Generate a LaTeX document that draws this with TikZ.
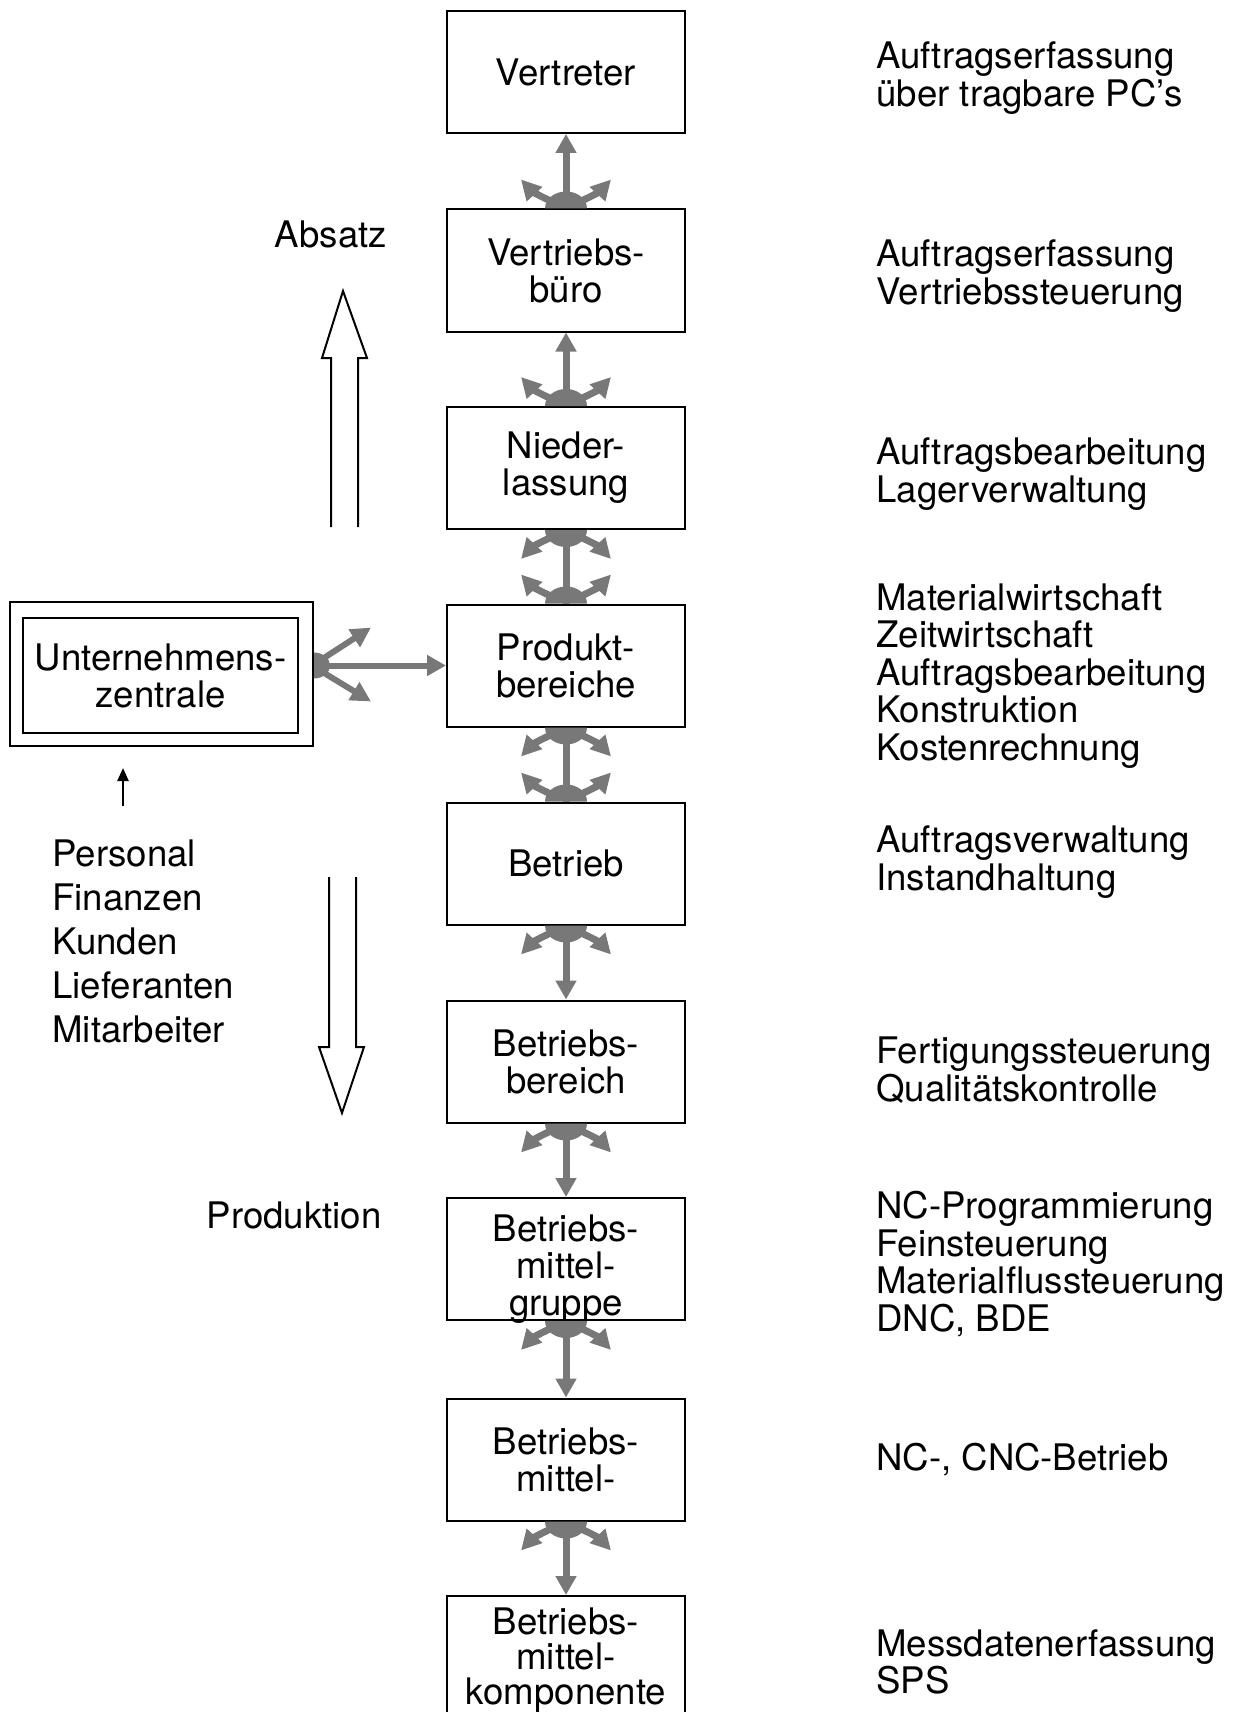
\documentclass[tikz,border=0pt]{standalone}
\usepackage{fontspec}
\setmainfont{TeX Gyre Heros}
\usetikzlibrary{arrows.meta}
\definecolor{linkgray}{gray}{0.47}
\tikzset{
  x=0.5pt, y=-0.5pt,
  every node/.style={font=\fontsize{18.3}{18.5}\selectfont, inner sep=0pt},
  box/.style={draw, line width=1pt, minimum width=119pt, minimum height=61pt, align=center},
  boxtext/.style={align=center},
  notes/.style={anchor=west, align=left, font=\fontsize{18.3}{18.75}\selectfont},
  listtext/.style={anchor=west, align=left, font=\fontsize{18.3}{22}\selectfont},
  shaft/.style={draw=linkgray, line width=3.5pt},
  tipend/.style={-{Triangle[length=9.5pt, width=10pt]}},
  arm/.style={draw=linkgray, line width=3.5pt, -{Triangle[length=10pt, width=10pt]}},
  hollow/.style={draw, line width=1pt, line join=miter},
  % branching end of a link: blob on the box edge with two side arrows
  fanend/.pic={
    \fill[linkgray] (-21,0) arc[start angle=180, end angle=360, x radius=21, y radius=17] -- cycle;
    \draw[arm] (-14,-7) to[bend left=12] (-45,-29);
    \draw[arm] (14,-7) to[bend right=12] (45,-29);
  }
}
\begin{document}
\begin{tikzpicture}
\useasboundingbox (0,0) rectangle (1242,1712);
\clip (0,0) rectangle (1242,1712);
\fill[white] (0,0) rectangle (1242,1712);

% levels of the hierarchy
\node[box] (b1) at (566,72) {Vertreter};
\node[box] (b2) at (566,270.5) {Vertriebs-\\büro};
\node[box] (b3) at (566,468) {Nieder-\\lassung};
\node[box] (b4) at (566,665.5) {Produkt-\\bereiche};
\node[box] (b5) at (566,863.5) {Betrieb};
\node[box] (b6) at (566,1061.5) {Betriebs-\\bereich};
\node[box] (b7) at (566,1259) {};
\node[boxtext] (t7) at (566,1269) {Betriebs-\\mittel-\\gruppe};
\node[box] (b8) at (566,1459.5) {Betriebs-\\mittel-};
\node[box] (b9) at (566,1657) {};
\node[boxtext, font=\fontsize{18.3}{17.5}\selectfont] (t9) at (566,1660) {Betriebs-\\mittel-\\komponente};

% head office, double frame
\node[draw, line width=1pt, minimum width=151.5pt, minimum height=72pt] (uz) at (161.5,674) {};
\node[box, minimum width=137.5pt, minimum height=57.5pt] (uzi) at (160.5,675.5) {Unternehmens-\\zentrale};

% links between the levels
\draw[shaft, tipend] (b2.north) -- (b1.south);
\pic at (b2.north) {fanend};
\draw[shaft, tipend] (b3.north) -- (b2.south);
\pic at (b3.north) {fanend};
\draw[shaft] (b3.south) -- (b4.north);
\pic[rotate=180] at (b3.south) {fanend};
\pic at (b4.north) {fanend};
\draw[shaft] (b4.south) -- (b5.north);
\pic[rotate=180] at (b4.south) {fanend};
\pic at (b5.north) {fanend};
\draw[shaft, tipend] (b5.south) -- (b6.north);
\pic[rotate=180] at (b5.south) {fanend};
\draw[shaft, tipend] (b6.south) -- (b7.north);
\pic[rotate=180] at (b6.south) {fanend};
\draw[shaft, tipend] (b7.south) -- (b8.north);
\pic[rotate=180] at (b7.south) {fanend};
\draw[shaft, tipend] (b8.south) -- (b9.north);
\pic[rotate=180] at (b8.south) {fanend};

% link from the head office to the product divisions
\coordinate (uzr) at (uz.east |- b4.west);
\draw[shaft, line width=3pt, tipend] (uzr) -- (b4.west);
\fill[linkgray] ([shift={(0,-13)}]uzr) arc[start angle=270, end angle=450, x radius=16, y radius=13] -- cycle;
\draw[arm, line width=3pt] ([shift={(6,-5)}]uzr) -- ([shift={(57,-38)}]uzr);
\draw[arm, line width=3pt] ([shift={(6,5)}]uzr) -- ([shift={(57,36)}]uzr);

% inputs of the head office
\coordinate (inbot) at (123,806);
\coordinate (intop) at (123,768);
\draw[line width=1.2pt, -{Triangle[length=6.5pt, width=5.5pt]}] (inbot) -- (intop);
\node[listtext] (inputs) at (52,941) {Personal\\Finanzen\\Kunden\\Lieferanten\\Mitarbeiter};

% hollow arrows: sales upwards, production downwards
\draw[hollow] (331,527) -- (331,358) -- (322,358) -- (343,291) -- (367,358) -- (358,358) -- (358,527);
\draw[hollow] (329,877) -- (329,1047) -- (319,1047) -- (342,1113) -- (364,1047) -- (356,1047) -- (356,877);
\node (absatz) at (331,234) {Absatz};
\node (produktion) at (294,1215) {Produktion};

% tasks of each level
\node[notes] (r1) at (876,78) {Auftragserfassung\\über tragbare PC's};
\node[notes] (r2) at (876,276) {Auftragserfassung\\Vertriebssteuerung};
\node[notes] (r3) at (876,474) {Auftragsbearbeitung\\Lagerverwaltung};
\node[notes] (r4) at (876,676) {Materialwirtschaft\\Zeitwirtschaft\\Auftragsbearbeitung\\Konstruktion\\Kostenrechnung};
\node[notes] (r5) at (876,862) {Auftragsverwaltung\\Instandhaltung};
\node[notes] (r6) at (876,1070) {Fertigungssteuerung\\Qualitätskontrolle};
\node[notes] (r7) at (876,1264) {NC-Programmierung\\Feinsteuerung\\Materialflussteuerung\\DNC, BDE};
\node[notes] (r8) at (876,1460) {NC-, CNC-Betrieb};
\node[notes] (r9) at (876,1662) {Messdatenerfassung\\SPS};
\end{tikzpicture}
\end{document}
